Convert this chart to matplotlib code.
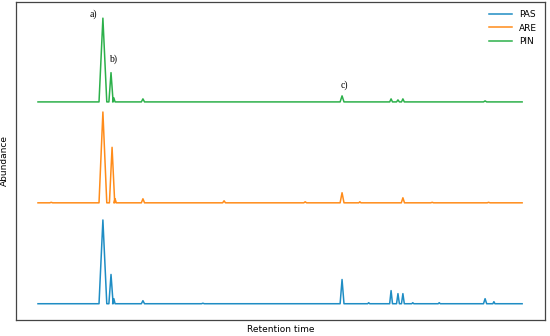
import numpy as np
import matplotlib.pyplot as plt

# czasy retencji (min) i wysokości pików dla każdej próbki
series_names = ['PAS', 'ARE', 'PIN']
series_colors = ['#1f8dc4', '#ff8c1a', '#2cb04a']

pas_times = [4.93, 5.39, 5.55, 7.20, 10.6, 18.49, 20.0, 21.27, 21.66, 21.94, 22.5, 24.0, 26.60, 27.10]
pas_heights = [0.83, 0.29, 0.05, 0.03, 0.005, 0.24, 0.01, 0.13, 0.10, 0.10, 0.01, 0.01, 0.05, 0.02]
pas_widths = [0.22, 0.12, 0.07, 0.09, 0.08, 0.11, 0.06, 0.08, 0.08, 0.08, 0.06, 0.06, 0.09, 0.06]

are_times = [2.0, 4.93, 5.45, 5.62, 7.20, 11.80, 16.4, 18.49, 19.5, 21.94, 23.6, 26.8]
are_heights = [0.005, 0.90, 0.55, 0.04, 0.04, 0.02, 0.01, 0.10, 0.01, 0.05, 0.005, 0.005]
are_widths = [0.08, 0.22, 0.15, 0.07, 0.09, 0.08, 0.08, 0.11, 0.06, 0.09, 0.08, 0.08]

pin_times = [4.93, 5.39, 5.55, 7.20, 18.49, 21.27, 21.66, 21.94, 26.6]
pin_heights = [0.83, 0.29, 0.04, 0.03, 0.06, 0.03, 0.02, 0.03, 0.01]
pin_widths = [0.22, 0.12, 0.07, 0.09, 0.11, 0.08, 0.08, 0.08, 0.09]

t_start, t_end = 1.25, 28.7
offsets = [0, 1, 2]

annot_labels = ['a)', 'b)', 'c)']
annot_times = [4.37, 5.5, 18.6]
annot_y = [2.87, 2.42, 2.17]


def build_trace(times, heights, widths, base):
    xs = [t_start]
    ys = [base]
    for t, h, w in sorted(zip(times, heights, widths)):
        xs += [t - w, t, t + w]
        ys += [base, base + h, base]
    xs.append(t_end)
    ys.append(base)
    return xs, ys


fig = plt.figure(figsize=(5.5, 3.36), dpi=100)
ax = fig.add_axes([0.029, 0.048, 0.962, 0.946])

all_data = [(pas_times, pas_heights, pas_widths),
            (are_times, are_heights, are_widths),
            (pin_times, pin_heights, pin_widths)]

for (times, heights, widths), name, color, off in zip(all_data, series_names, series_colors, offsets):
    xs, ys = build_trace(times, heights, widths, off)
    ax.plot(xs, ys, color=color, linewidth=1.1, label=name)

for lab, t, y in zip(annot_labels, annot_times, annot_y):
    ax.text(t, y, lab, fontsize=7, fontfamily=['Liberation Serif'], ha='center', va='center')

ax.set_xlim(0, 30)
ax.set_ylim(-0.16, 2.99)
ax.set_xticks([])
ax.set_yticks([])
for sp in ax.spines.values():
    sp.set_color('#444444')
    sp.set_linewidth(0.9)

ax.set_xlabel('Retention time', fontsize=6.5, labelpad=4)
ax.set_ylabel('Abundance', fontsize=6.5, labelpad=5)
ax.legend(loc='upper right', frameon=False, fontsize=6.5, handlelength=2.5)

fig.savefig('out.png', dpi=100)
